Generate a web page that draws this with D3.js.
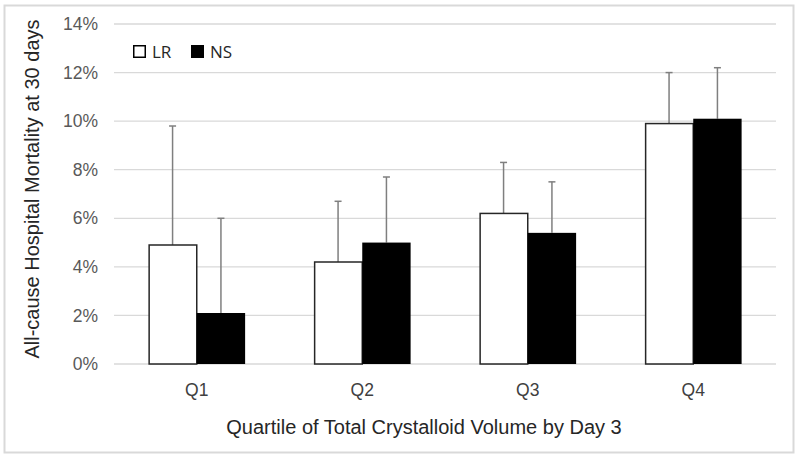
<!DOCTYPE html>
<html>
<head>
<meta charset="utf-8">
<script src="https://cdn.jsdelivr.net/npm/d3@7"></script>
<style>
  html, body { margin: 0; padding: 0; background: #fff; }
  svg { display: block; }
</style>
</head>
<body>
<svg id="chart" width="800" height="459"></svg>
<script>
const categories = ["Q1", "Q2", "Q3", "Q4"];
const seriesNames = ["LR", "NS"];
const lrValues = [4.9, 4.2, 6.2, 9.9];
const nsValues = [2.1, 5.0, 5.4, 10.1];
const lrUpper = [9.8, 6.7, 8.3, 12.0];
const nsUpper = [6.0, 7.7, 7.5, 12.2];
const yTicks = [0, 2, 4, 6, 8, 10, 12, 14];
const xTitle = "Quartile of Total Crystalloid Volume by Day 3";
const yTitle = "All-cause Hospital Mortality at 30 days";

const svg = d3.select("#chart");

// outer frame
svg.append("rect")
  .attr("x", 4.5).attr("y", 5.5).attr("width", 789).attr("height", 447)
  .attr("fill", "#fff").attr("stroke", "#d9d9d9").attr("stroke-width", 2);

const plot = { left: 114, right: 776, top: 24, bottom: 364 };

const x = d3.scaleBand().domain(categories)
  .range([plot.left, plot.right])
  .paddingInner(0.4155).paddingOuter(0.2078);
const xs = d3.scaleBand().domain(seriesNames).range([0, x.bandwidth()]);
const y = d3.scaleLinear().domain([0, 14]).range([plot.bottom, plot.top]);

// gridlines
svg.append("g").selectAll("line").data(yTicks).join("line")
  .attr("x1", plot.left).attr("x2", plot.right)
  .attr("y1", d => y(d)).attr("y2", d => y(d))
  .attr("stroke", "#d9d9d9").attr("stroke-width", 1.3);

// y axis labels
const yAxis = d3.axisLeft(y).tickValues(yTicks).tickFormat(d => d + "%").tickSize(0).tickPadding(0);
const yg = svg.append("g").attr("transform", `translate(${plot.left - 16},0)`).call(yAxis);
yg.select(".domain").remove();
yg.selectAll("text").attr("fill", "#595959")
  .style("font-family", "'Liberation Sans', Arial, sans-serif").style("font-size", "17.5px");

// x axis labels
const xAxis = d3.axisBottom(x).tickSize(0).tickPadding(0);
const xg = svg.append("g").attr("transform", `translate(0,${plot.bottom + 20})`).call(xAxis);
xg.select(".domain").remove();
xg.selectAll("text").attr("fill", "#404040")
  .style("font-family", "'Liberation Sans', Arial, sans-serif").style("font-size", "17.5px");

const data = categories.map((c, i) => ({
  cat: c,
  bars: [
    { s: "LR", v: lrValues[i], up: lrUpper[i] },
    { s: "NS", v: nsValues[i], up: nsUpper[i] }
  ]
}));

const groups = svg.append("g").selectAll("g").data(data).join("g")
  .attr("transform", d => `translate(${x(d.cat)},0)`);

// error bars
groups.selectAll("g.err").data(d => d.bars).join("g").attr("class", "err")
  .each(function(d) {
    const g = d3.select(this);
    const cx = xs(d.s) + xs.bandwidth() / 2;
    g.append("line").attr("x1", cx).attr("x2", cx)
      .attr("y1", y(d.v)).attr("y2", y(d.up))
      .attr("stroke", "#7f7f7f").attr("stroke-width", 1.5);
    g.append("line").attr("x1", cx - 3.5).attr("x2", cx + 3.5)
      .attr("y1", y(d.up)).attr("y2", y(d.up))
      .attr("stroke", "#7f7f7f").attr("stroke-width", 1.5);
  });

groups.selectAll("rect").data(d => d.bars).join("rect")
  .attr("x", d => xs(d.s) + (d.s === "LR" ? 0.75 : 0))
  .attr("y", d => y(d.v))
  .attr("width", d => xs.bandwidth() - (d.s === "LR" ? 0.75 : 0))
  .attr("height", d => y(0) - y(d.v))
  .attr("fill", d => d.s === "LR" ? "#fff" : "#000")
  .attr("stroke", d => d.s === "LR" ? "#262626" : "none")
  .attr("stroke-width", 1.5);

// legend
const legend = svg.append("g").attr("transform", "translate(133,45)");
const legItems = [{ s: "LR", fill: "#fff", x: 0 }, { s: "NS", fill: "#000", x: 58 }];
legItems.forEach(it => {
  legend.append("rect").attr("x", it.x + 0.75).attr("y", 0.75).attr("width", 11.5).attr("height", 11.5)
    .attr("fill", it.fill).attr("stroke", "#000").attr("stroke-width", 1.5);
  legend.append("text").attr("x", it.x + 19).attr("y", 12.5)
    .attr("fill", "#262626")
    .style("font-family", "'Open Sans', 'Noto Sans', sans-serif").style("font-size", "17px")
    .text(it.s);
});

// axis titles
svg.append("text").attr("x", 424).attr("y", 434).attr("text-anchor", "middle")
  .attr("fill", "#262626")
  .style("font-family", "'Liberation Sans', Arial, sans-serif").style("font-size", "20px")
  .text(xTitle);

svg.append("text").attr("transform", "translate(39,189) rotate(-90)").attr("text-anchor", "middle")
  .attr("fill", "#262626")
  .style("font-family", "'Liberation Sans', Arial, sans-serif").style("font-size", "20px")
  .text(yTitle);
</script>
</body>
</html>
